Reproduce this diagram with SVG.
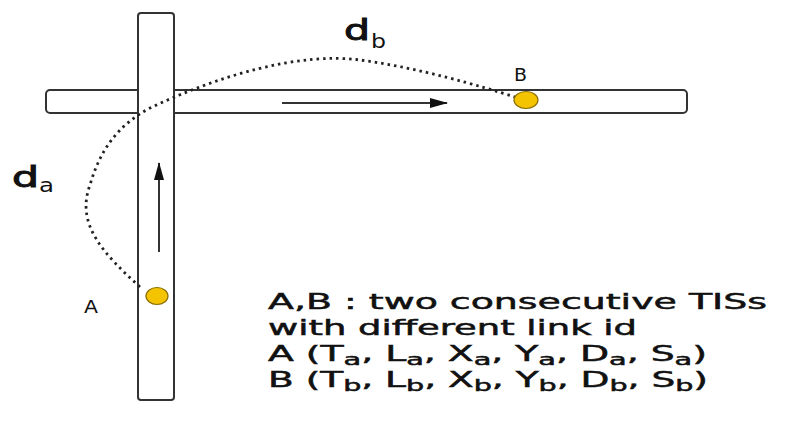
<svg xmlns="http://www.w3.org/2000/svg" width="811" height="421" viewBox="0 0 811 421">
<defs>
<style>
.road{fill:#fff;stroke:#333;stroke-width:2}
.dir{stroke:#333;stroke-width:2;fill:none}
.pt{fill:#f5c400;stroke:#8a6d00;stroke-width:1.2}
.lbl{font-family:"DejaVu Sans",Verdana,sans-serif;fill:#111}
.desc{font-family:"DejaVu Sans",Verdana,sans-serif;fill:#111;stroke:#111;stroke-width:0.5;font-size:21px}
.path{fill:none;stroke:#222;stroke-width:2.8;stroke-dasharray:2.5 4;stroke-linecap:butt}
</style>
<marker id="ah2" markerWidth="18" markerHeight="10" refX="17" refY="5" orient="auto" markerUnits="userSpaceOnUse">
<path d="M0,0 L18,5 L0,10 Z" fill="#111"/>
</marker>
</defs>
<g id="road-horizontal">
<rect class="road" x="46" y="90" width="641" height="23" rx="4"/>
</g>
<g id="road-vertical">
<rect class="road" x="138" y="13" width="36" height="387" rx="3"/>
</g>
<g id="connectors">
<line class="dir" x1="282" y1="103" x2="447" y2="103" marker-end="url(#ah2)"/>
<line class="dir" x1="159" y1="252" x2="159" y2="163" marker-end="url(#ah2)"/>
<path class="path" d="M 140 287 C 105 255, 75 225, 90 185 C 100 150, 118 125, 150 108 C 220 75, 300 52, 360 60 C 420 68, 480 86, 515 97"/>
</g>
<g id="point-A">
<ellipse class="pt" cx="157" cy="296" rx="11" ry="8.5"/>
<text class="lbl" x="84" y="313" font-size="17" textLength="14" lengthAdjust="spacingAndGlyphs">A</text>
</g>
<g id="point-B">
<ellipse class="pt" cx="526" cy="100" rx="12" ry="8.5"/>
<text class="lbl" x="514" y="81" font-size="17" textLength="13" lengthAdjust="spacingAndGlyphs">B</text>
</g>
<g id="label-da">
<text class="lbl" x="12" y="187" font-size="29" stroke="#111" stroke-width="1" textLength="27" lengthAdjust="spacingAndGlyphs">d</text>
<text class="lbl" x="39" y="192" font-size="20" textLength="15" lengthAdjust="spacingAndGlyphs">a</text>
</g>
<g id="label-db">
<text class="lbl" x="344" y="40" font-size="29" stroke="#111" stroke-width="1" textLength="26" lengthAdjust="spacingAndGlyphs">d</text>
<text class="lbl" x="371" y="48" font-size="19" textLength="15" lengthAdjust="spacingAndGlyphs">b</text>
</g>
<g id="description">
<text class="desc" x="268" y="309" textLength="499" lengthAdjust="spacingAndGlyphs">A,B : two consecutive TISs</text>
<text class="desc" x="268" y="335" textLength="369" lengthAdjust="spacingAndGlyphs">with different link id</text>
<text class="desc" x="268" y="361" textLength="439" lengthAdjust="spacingAndGlyphs">A (T<tspan font-size="16" dy="4">a</tspan><tspan dy="-4">, L</tspan><tspan font-size="16" dy="4">a</tspan><tspan dy="-4">, X</tspan><tspan font-size="16" dy="4">a</tspan><tspan dy="-4">, Y</tspan><tspan font-size="16" dy="4">a</tspan><tspan dy="-4">, D</tspan><tspan font-size="16" dy="4">a</tspan><tspan dy="-4">, S</tspan><tspan font-size="16" dy="4">a</tspan><tspan dy="-4">)</tspan></text>
<text class="desc" x="268" y="387" textLength="440" lengthAdjust="spacingAndGlyphs">B (T<tspan font-size="16" dy="4">b</tspan><tspan dy="-4">, L</tspan><tspan font-size="16" dy="4">b</tspan><tspan dy="-4">, X</tspan><tspan font-size="16" dy="4">b</tspan><tspan dy="-4">, Y</tspan><tspan font-size="16" dy="4">b</tspan><tspan dy="-4">, D</tspan><tspan font-size="16" dy="4">b</tspan><tspan dy="-4">, S</tspan><tspan font-size="16" dy="4">b</tspan><tspan dy="-4">)</tspan></text>
</g>
</svg>
